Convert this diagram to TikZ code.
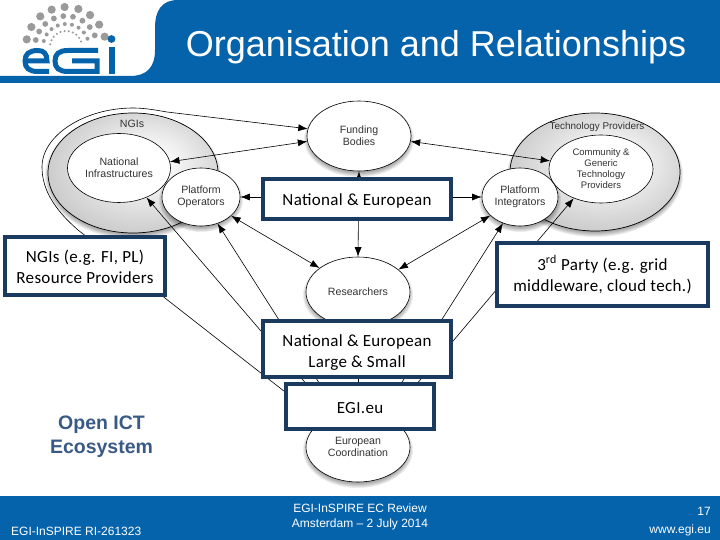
\documentclass[tikz,border=0pt]{standalone}
\usepackage{fontspec}
\setmainfont{Liberation Sans}
\newfontfamily\carlitofont[LetterSpace=2]{Carlito}
\usetikzlibrary{shapes.geometric,arrows.meta}
\definecolor{egiblue}{HTML}{0563AB}
\definecolor{navy}{HTML}{1B3A60}
\definecolor{ecotext}{HTML}{3A5A86}
\definecolor{dotgray}{HTML}{9A9A9A}
\pgfdeclareradialshading{groupshade}{\pgfpoint{5bp}{5bp}}{%
  color(0bp)=(white); color(8bp)=(black!4); color(30bp)=(black!22); color(45bp)=(black!34); color(50bp)=(black!38)}
\newcommand{\softshadow}[4]{%
  \foreach \k in {0,1,...,5}{%
    \fill[black,opacity=0.07] (#1,#2+3) ellipse [x radius={#3+3-\k}, y radius={#4+3-\k}];}}
\tikzset{
  ell/.style={shape=ellipse,draw=black,line width=0.6pt,fill=white,inner sep=0pt,text=black!80,font=\fontsize{10.6}{12}\selectfont,align=center},
  conn/.style={draw=black,line width=0.6pt},
  tip/.style={-{Latex[length=9.5pt,width=7pt]}},
  tips/.style={{Latex[length=9.5pt,width=7pt]}-{Latex[length=9.5pt,width=7pt]}},
  bx/.style={draw=navy,line width=4pt,fill=white,inner sep=0pt,align=center,text=black,font=\carlitofont\fontsize{17}{21}\selectfont},
  whitetext/.style={text=white,inner sep=0pt},
}
\begin{document}
\begin{tikzpicture}[x=1pt,y=-1pt]
\useasboundingbox (0,0) rectangle (720,540);
\fill[white] (0,0) rectangle (720,540);
% header
\fill[egiblue] (0,76) -- (130,76) .. controls (146,76) and (155,68) .. (155,50) -- (155,28) .. controls (155,10) and (162,0) .. (178,0) -- (720,0) -- (720,83) -- (0,83) -- cycle;
\node[whitetext,font=\fontsize{36}{40}\selectfont] (title) at (436,47.5) {Organisation and Relationships};
% logo dots
\foreach \a in {169,150,130,111,92,72,53,34,15}
  \fill[dotgray] ({66+40*cos(\a)},{47-40*sin(\a)}) circle (4.1);
\foreach \a in {167,150,132,113,95,77,58,40,22}
  \fill[dotgray] ({66+31*cos(\a)},{47-31*sin(\a)}) circle (2.9);
\foreach \a in {165,147,129,111,93,75,57,39,21}
  \fill[dotgray] ({66+23*cos(\a)},{47-23*sin(\a)}) circle (2);
\foreach \a in {170,155,140,125,110,95,80,65,50,35,20}
  \fill[dotgray] ({66+16*cos(\a)},{47-16*sin(\a)}) circle (1.1);
% logo letters
\begin{scope}[line width=5pt]
\draw[egiblue] (26,61) -- (47,61) .. controls (47,54) and (44,50.5) .. (38,50.5) .. controls (29,50.5) and (25,54) .. (25,61) .. controls (25,68) and (29,71.5) .. (38,71.5) -- (49,71.5);
\draw[egiblue] (98,50.5) -- (68,50.5) .. controls (59,50.5) and (55,54) .. (55,61) .. controls (55,68) and (59,71.5) .. (68,71.5) -- (97,71.5) -- (97,61) -- (72,61);
\draw[egiblue,line width=6pt] (111.5,47) -- (111.5,74.5);
\fill[egiblue] (111.5,39) circle (3.9);
\end{scope}
% grey group ellipses
\softshadow{133}{173}{85}{60}
\softshadow{595}{172}{85}{59}
\shade[shading=groupshade] (133,173) ellipse [x radius=85,y radius=60];
\draw[line width=0.7pt] (133,173) ellipse [x radius=85,y radius=60];
\shade[shading=groupshade] (595,172) ellipse [x radius=85,y radius=59];
\draw[line width=0.7pt] (595,172) ellipse [x radius=85,y radius=59];
\node[font=\fontsize{10.6}{12}\selectfont,text=black!80,inner sep=0pt] (ngil) at (132,124) {NGIs};
\node[font=\fontsize{9.9}{12}\selectfont,text=black!80,inner sep=0pt] (techl) at (597,127) {Technology Providers};
% shadows for white ellipses
\softshadow{359}{136}{52}{35}
\softshadow{358}{292}{52}{35}
\softshadow{358}{447}{52}{35}
\softshadow{201}{197}{39}{29}
\softshadow{520}{197}{38}{29}
% ellipses
\node[ell,minimum width=103pt,minimum height=69pt] (natinf) at (119,168) {National\\Infrastructures};
\node[ell,minimum width=104pt,minimum height=68pt,font=\fontsize{9.5}{11}\selectfont] (comm) at (601,169) {Community \&\\Generic\\Technology\\Providers};
\node[ell,minimum width=78pt,minimum height=58pt] (ops) at (201,197) {Platform\\Operators};
\node[ell,minimum width=76pt,minimum height=58pt] (integ) at (520,197) {Platform\\Integrators};
\node[ell,minimum width=104pt,minimum height=70pt] (fund) at (359,136) {Funding\\Bodies};
\node[ell,minimum width=104pt,minimum height=70pt] (res) at (358,292) {Researchers};
\node[ell,minimum width=104pt,minimum height=70pt,text depth=0pt] (coord) at (358,447) {European\\Coordination};
% connectors
\draw[conn,tip] (coord.144) -- (78,230) .. controls (55,210) and (42,190) .. (42,167) .. controls (42,135) and (85,108) .. (133,108) .. controls (145,108) and (155,110) .. (167,112) -- (fund.172.5);
\draw[conn,tips] (fund.186.6) -- (natinf.7.7);
\draw[conn,tips] (fund.-6.6) -- (comm.171.3);
\draw[conn,tips] (fund.-90) -- (res.90);
\draw[conn,tips] (ops.0) -- (integ.180);
\draw[conn,tips] (ops.-32) -- (res.148);
\draw[conn,tips] (integ.212) -- (res.29.7);
\draw[conn,tip] (coord.128) -- (natinf.-47.8);
\draw[conn,tip] (coord.120.7) -- (ops.-58.7);
\draw[conn,tip] (coord.54) -- (integ.237.3);
\draw[conn,tip] (coord.44) -- (comm.227.9);
\draw[conn] (res) -- (coord);
% boxes
\node[bx,minimum width=188pt,minimum height=40pt] (b1) at (357,199) {\rule{0pt}{15pt}National \& European};
\node[bx,minimum width=160pt,minimum height=58pt] (b2) at (85,266) {\rule{0pt}{15pt}NGIs (e.g. FI, PL)\\Resource Providers};
\node[bx,minimum width=211pt,minimum height=63pt] (b3) at (602.5,274.5) {3\textsuperscript{rd} Party (e.g. grid\\middleware, cloud tech.)};
\node[bx,minimum width=188pt,minimum height=56pt] (b4) at (357,349) {\rule{0pt}{18pt}National \& European\\Large \& Small};
\node[bx,minimum width=148pt,minimum height=45pt] (b5) at (360,406.5) {\rule{0pt}{15pt}EGI.eu};
\node[font=\bfseries\fontsize{19.5}{24}\selectfont,text=ecotext,align=center,inner sep=0pt] (eco) at (101.5,437) {Open ICT\\Ecosystem};
% footer
\fill[egiblue] (0,496) rectangle (720,540);
\node[whitetext,anchor=west,font=\fontsize{12}{14}\selectfont] (f1) at (11,531) {EGI-InSPIRE RI-261323};
\node[whitetext,align=center,font=\fontsize{12}{15}\selectfont] (f2) at (360,517) {EGI-InSPIRE EC Review\\Amsterdam – 2 July 2014};
\node[whitetext,align=right,anchor=east,font=\fontsize{12}{18}\selectfont] (f3) at (711,522) {17\\www.egi.eu};
\end{tikzpicture}
\end{document}
